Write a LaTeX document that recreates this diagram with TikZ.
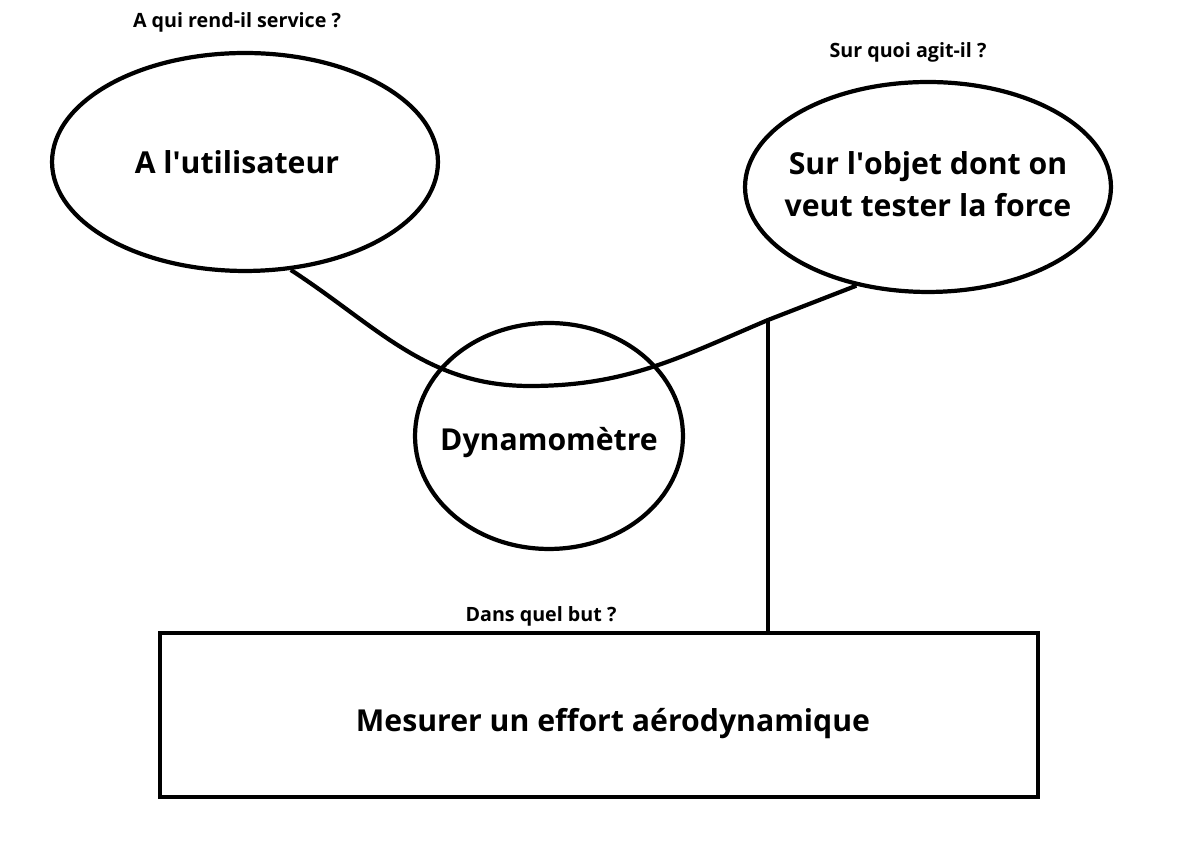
\documentclass[tikz,border=0pt]{standalone}
\usepackage{fontspec}
\setmainfont{Open Sans}
\usetikzlibrary{shapes.geometric}

\begin{document}
\begin{tikzpicture}[x=0.02cm,y=0.02cm,
		bubble/.style={ellipse,draw=black,line width=2.4pt,inner sep=0pt},
		question/.style={font=\bfseries\fontsize{11.2}{13}\selectfont},
		answer/.style={font=\bfseries\fontsize{17.2}{24.4}\selectfont,align=center,text depth=0pt}]
		\useasboundingbox (0,0) rectangle (1184,841);
		% les trois bulles
		\node[bubble,minimum width=7.72cm,minimum height=4.36cm,label={[answer,xshift=-0.16cm]center:A l\textquotesingle utilisateur}] at (245,679) (user) {};
		\node[bubble,minimum width=7.32cm,minimum height=4.2cm,label={[answer,yshift=0.06cm]center:Sur l\textquotesingle objet dont on\\veut tester la force}] at (928,654) (object) {};
		\node[bubble,minimum width=5.36cm,minimum height=4.52cm,label={[answer,yshift=-0.06cm]center:Dynamom\`etre}] at (549,405) (dynamo) {};
		\node[draw=black,line width=2.4pt,minimum width=17.56cm,minimum height=3.28cm,label={[answer,xshift=0.28cm,yshift=-0.1cm]center:Mesurer un effort a\'erodynamique}] at (599,126) (goal) {};
		% les questions
		\node[question] at (237,819) (askuser) {A qui rend-il service ?};
		\node[question] at (908,789) (askobject) {Sur quoi agit-il ?};
		\node[question] at (541,225) (askgoal) {Dans quel but ?};
		% la corne et le lien vers le but
		\coordinate (dip) at (530,455);
		\coordinate (junction) at (768,521);
		\draw[line width=2.4pt] (user.-67) to[out=-33,in=180] (dip) to[out=0,in=203] (junction) -- (object.-126);
		\draw[line width=2.4pt] (junction) -- (junction |- goal.north);
	\end{tikzpicture}
\end{document}
